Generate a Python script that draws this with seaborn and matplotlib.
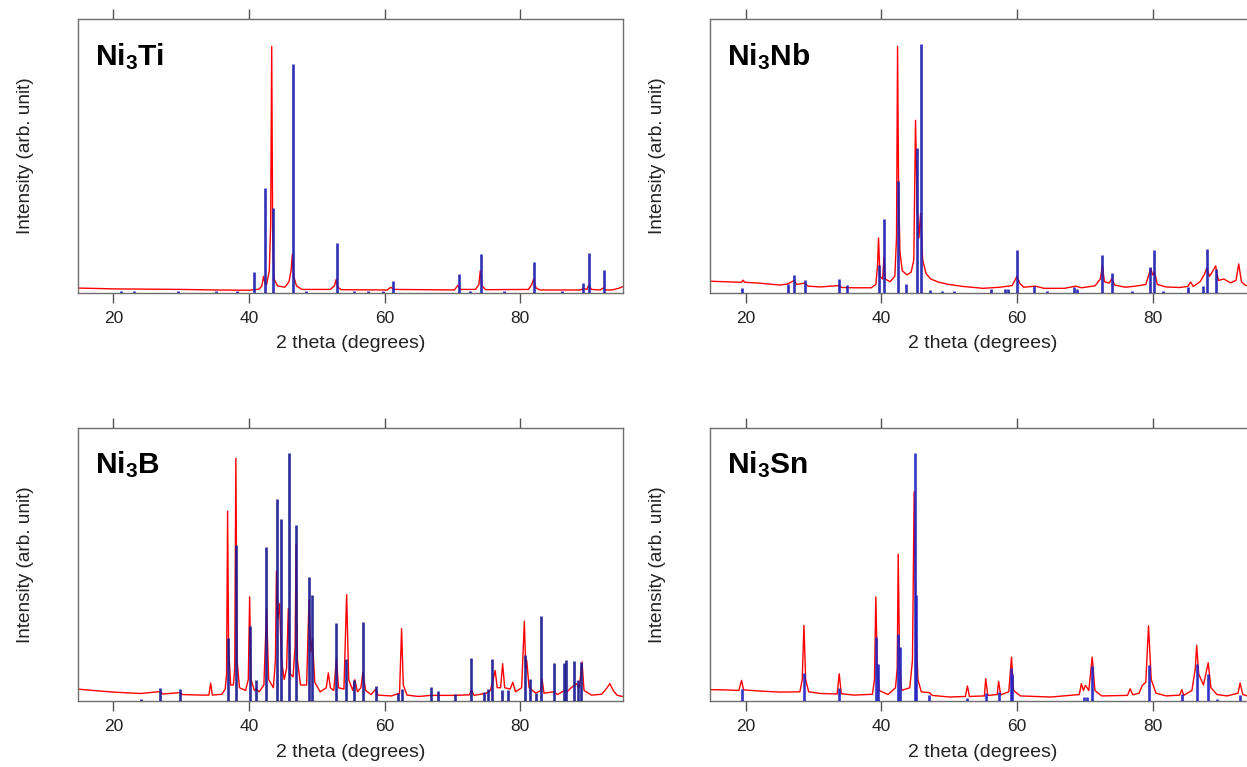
import matplotlib
matplotlib.use("Agg")
import matplotlib.pyplot as plt
import seaborn as sns
import pandas as pd

# ---------------- data (intensity in % of panel height) ----------------
x_ticks = [20, 40, 60, 80]
x_range = (14.75, 95.1)
panel_labels = [r"$\mathbf{Ni_3Ti}$", r"$\mathbf{Ni_3Nb}$", r"$\mathbf{Ni_3B}$", r"$\mathbf{Ni_3Sn}$"]

ti_curve = [(14.75, 1.7), (20, 1.4), (25, 1.3), (30, 1.2), (35, 1.0), (40, 0.9), (41.5, 1.3), (41.9, 2.5),
            (42.15, 6.0), (42.35, 3.5), (42.6, 3.0), (43.0, 8.0), (43.2, 25.0), (43.35, 90.0), (43.5, 20.0),
            (43.7, 5.0), (44.2, 2.5), (45.3, 2.0), (45.9, 4.0), (46.2, 8.0), (46.4, 14.0), (46.6, 6.0),
            (47.0, 2.5), (47.8, 1.2), (52.0, 1.2), (52.6, 2.5), (52.85, 4.8), (53.1, 2.0), (53.6, 1.1),
            (60.4, 1.0), (60.9, 2.0), (61.3, 1.2), (70.3, 1.0), (70.8, 2.7), (71.2, 1.2), (73.4, 1.2),
            (73.9, 3.0), (74.1, 8.0), (74.35, 2.5), (74.9, 1.1), (81.2, 1.2), (81.7, 3.0), (81.95, 4.9),
            (82.3, 1.8), (82.9, 1.0), (88.8, 1.0), (89.4, 1.5), (89.8, 1.2), (90.1, 2.7), (90.5, 1.2),
            (91.8, 1.0), (92.2, 1.7), (92.6, 1.0), (93.5, 1.0), (94.5, 1.6), (95.1, 2.2)]
ti_sticks_x = [21.1, 23.0, 29.5, 35.2, 38.3, 40.8, 42.33, 43.58, 46.54, 48.4, 52.94, 55.5, 57.5, 59.7,
               61.23, 70.95, 72.6, 74.27, 77.6, 82.03, 86.2, 89.31, 90.14, 92.27]
ti_sticks_h = [0.8, 0.8, 0.8, 0.8, 0.8, 7.6, 38.4, 31.1, 83.4, 0.8, 18.3, 0.8, 0.8, 0.8,
               4.1, 6.7, 0.8, 14.0, 0.8, 11.3, 0.8, 3.4, 14.5, 8.2]

nb_curve = [(14.75, 4.2), (17, 4.0), (19.4, 3.8), (19.6, 4.6), (19.9, 3.8), (22, 3.5), (25, 2.8), (26.2, 3.2),
            (27.2, 4.5), (27.5, 3.0), (28.7, 3.5), (29.2, 2.4), (31, 2.1), (33.7, 2.6), (34.2, 1.9), (36, 1.8),
            (38.5, 1.8), (39.2, 3.0), (39.45, 10.0), (39.6, 20.0), (39.8, 6.0), (40.2, 5.0), (40.4, 13.0),
            (40.6, 5.0), (41.3, 4.0), (42.0, 6.0), (42.25, 20.0), (42.4, 90.0), (42.55, 40.0), (42.75, 15.0),
            (43.1, 8.0), (43.8, 6.5), (44.4, 7.5), (44.8, 12.0), (45.05, 63.0), (45.3, 30.0), (45.55, 20.0),
            (45.8, 29.0), (46.1, 12.0), (46.6, 7.0), (47.3, 5.0), (48.5, 3.8), (50, 3.0), (52, 2.3), (55, 1.6),
            (57.5, 2.0), (59.3, 2.6), (59.8, 5.0), (60.0, 6.0), (60.4, 3.5), (61, 2.0), (62.7, 2.4), (64, 1.6),
            (67, 1.6), (68.7, 2.4), (69.5, 1.8), (71.5, 2.5), (72.3, 5.0), (72.6, 10.0), (72.9, 4.0),
            (73.6, 3.5), (74.0, 5.1), (74.4, 2.8), (76, 2.0), (77.5, 2.4), (79.0, 3.0), (79.5, 7.0),
            (79.75, 8.8), (80.0, 6.5), (80.3, 7.6), (80.7, 3.0), (82, 2.1), (84, 1.9), (85.2, 2.3), (85.6, 3.9),
            (86, 2.3), (87, 4.0), (87.6, 6.5), (88.0, 9.0), (88.4, 6.0), (88.9, 8.0), (89.3, 9.8), (89.7, 4.5),
            (90.5, 5.0), (91.5, 3.6), (92.3, 4.5), (92.7, 10.5), (93.1, 4.0), (93.7, 2.7), (95.1, 2.5)]
nb_sticks_x = [19.5, 26.2, 27.2, 28.7, 33.7, 35.0, 39.6, 40.4, 42.5, 43.7, 45.2, 45.9, 47.2, 48.9, 50.7,
               56.2, 58.2, 58.7, 60.07, 62.5, 64.5, 68.4, 68.9, 72.55, 73.95, 76.9, 79.6, 80.28, 81.5,
               85.2, 87.4, 88.0, 89.4]
nb_sticks_h = [1.8, 3.3, 6.6, 4.5, 5.1, 2.7, 10.0, 26.8, 40.7, 3.3, 52.9, 90.7, 1.1, 0.8, 0.8,
               1.2, 1.2, 1.2, 15.5, 2.4, 0.8, 2.0, 1.5, 13.9, 7.3, 0.8, 9.4, 15.5, 0.8,
               2.0, 2.3, 16.1, 8.8]

b_curve = [(14.75, 4.5), (17, 4.0), (20, 3.4), (23, 3.0), (24.1, 2.9), (26.9, 3.6), (27.3, 2.7), (29.8, 3.2),
           (30.2, 2.5), (33, 2.3), (34.1, 2.3), (34.35, 6.7), (34.6, 2.3), (36.0, 2.6), (36.5, 4.5), (36.7, 10.0),
           (36.85, 69.5), (37.0, 20.0), (37.3, 6.0), (37.7, 6.0), (37.9, 12.0), (38.07, 88.8), (38.25, 15.0),
           (38.6, 5.0), (39.5, 4.0), (39.9, 8.0), (40.1, 38.2), (40.3, 8.0), (40.8, 4.0), (41.1, 4.5),
           (41.5, 3.5), (42.2, 6.0), (42.6, 33.9), (42.9, 8.0), (43.6, 5.0), (43.9, 15.0), (44.05, 47.7),
           (44.25, 30.0), (44.5, 35.7), (44.8, 15.0), (45.2, 8.0), (45.55, 12.0), (45.8, 33.9), (46.1, 10.0),
           (46.5, 9.0), (46.8, 20.0), (46.95, 57.3), (47.15, 15.0), (47.6, 6.0), (48.5, 6.0), (48.85, 37.0),
           (49.1, 18.0), (49.35, 22.9), (49.7, 7.0), (50.5, 3.5), (51.4, 5.0), (51.7, 10.4), (52.0, 5.0),
           (52.5, 4.0), (52.9, 15.6), (53.2, 5.0), (54.0, 4.5), (54.4, 39.0), (54.7, 8.0), (55.3, 4.0),
           (55.6, 7.9), (56.0, 3.5), (56.5, 5.0), (56.8, 10.7), (57.2, 4.0), (58.0, 2.5), (58.7, 4.5),
           (59.0, 2.3), (61, 2.0), (62.2, 3.0), (62.5, 26.6), (62.75, 6.0), (63.3, 2.3), (65, 1.8),
           (66.8, 2.2), (67.9, 2.2), (70.4, 2.2), (72.5, 2.4), (72.8, 4.0), (73.2, 2.2), (75.0, 3.0),
           (75.6, 4.0), (76.0, 8.0), (76.3, 11.3), (76.6, 5.0), (77.1, 5.0), (77.4, 13.8), (77.7, 5.0),
           (78.5, 4.5), (78.9, 7.0), (79.3, 3.5), (80.2, 5.0), (80.6, 29.3), (80.8, 12.0), (80.95, 15.0),
           (81.3, 5.0), (82.3, 3.0), (83.0, 4.0), (83.2, 8.3), (83.5, 3.0), (84.9, 3.5), (85.5, 2.5),
           (86.5, 4.0), (86.9, 3.5), (87.5, 5.0), (88.3, 6.5), (88.7, 5.0), (89.1, 14.4), (89.4, 4.0),
           (90.5, 2.3), (92.0, 2.6), (92.8, 5.0), (93.2, 6.5), (93.7, 4.0), (94.3, 2.2), (95.1, 1.8)]
b_sticks_x = [24.1, 26.9, 29.8, 36.9, 38.07, 40.08, 41.1, 42.45, 44.17, 44.7, 45.9, 46.95, 48.85, 49.27,
              52.88, 54.36, 55.55, 56.8, 58.7, 61.95, 62.5, 66.8, 67.85, 70.4, 72.77, 74.7, 75.3, 75.9,
              77.35, 78.2, 80.7, 81.5, 82.3, 83.1, 84.9, 86.5, 86.8, 87.9, 88.5, 89.0]
b_sticks_h = [1.0, 5.0, 4.6, 23.3, 57.0, 27.6, 7.7, 56.5, 74.1, 66.8, 90.6, 64.4, 45.4, 39.0,
              28.8, 15.6, 7.9, 29.1, 5.6, 3.0, 4.6, 5.2, 3.8, 2.8, 16.0, 3.4, 4.6, 15.6,
              4.0, 4.0, 16.8, 8.3, 3.0, 31.1, 14.0, 14.1, 15.0, 14.6, 7.7, 14.4]

sn_curve = [(14.75, 4.3), (17, 4.2), (19.0, 4.0), (19.4, 7.7), (19.7, 4.2), (22, 3.8), (25, 3.4), (28.0, 3.5),
            (28.35, 8.0), (28.6, 27.8), (28.85, 8.0), (29.3, 3.5), (31, 2.9), (33.5, 2.7), (33.8, 10.1),
            (34.1, 2.8), (36, 2.3), (38.7, 2.6), (39.0, 8.0), (39.2, 38.2), (39.4, 14.0), (39.7, 4.0),
            (41, 2.5), (42.1, 5.0), (42.35, 12.0), (42.5, 53.8), (42.7, 14.0), (43.0, 4.0), (44.2, 5.0),
            (44.6, 15.0), (44.85, 76.6), (45.1, 30.0), (45.4, 8.0), (45.9, 3.5), (47.1, 3.2), (47.5, 2.2),
            (50, 1.6), (52.4, 1.8), (52.7, 5.6), (53.0, 1.8), (55.2, 2.0), (55.4, 8.3), (55.7, 2.2),
            (57.1, 2.5), (57.3, 7.3), (57.6, 2.4), (58.8, 3.5), (59.2, 16.2), (59.5, 4.0), (60.5, 2.0),
            (65, 1.6), (69.2, 2.5), (69.5, 6.5), (69.8, 4.0), (70.1, 5.9), (70.6, 4.0), (71.1, 16.2),
            (71.5, 4.0), (72.5, 2.0), (76.3, 2.2), (76.7, 4.6), (77.1, 2.4), (78.0, 3.0), (78.5, 5.9),
            (79.0, 7.0), (79.4, 27.6), (79.8, 8.0), (80.5, 3.0), (82, 2.0), (84.0, 2.3), (84.3, 4.3),
            (84.6, 2.2), (85.8, 4.0), (86.3, 12.0), (86.5, 20.5), (86.8, 10.0), (87.5, 6.0), (88.2, 14.1),
            (88.6, 5.0), (89.5, 2.5), (91, 2.0), (92.6, 3.0), (92.9, 6.7), (93.3, 2.5), (94.5, 1.6), (95.1, 1.5)]
sn_sticks_x = [19.4, 28.6, 33.8, 39.2, 39.5, 42.5, 42.7, 44.9, 45.1, 47.1, 52.7, 55.5, 57.3, 59.1, 59.3,
               69.9, 70.3, 71.1, 79.5, 84.4, 86.5, 88.2, 89.5, 92.9]
sn_sticks_h = [4.6, 10.4, 5.0, 23.5, 13.8, 24.5, 19.9, 90.9, 39.0, 2.2, 1.2, 3.0, 3.4, 12.2, 10.0,
               1.6, 1.6, 12.9, 13.2, 2.8, 13.5, 10.1, 1.0, 2.2]

# ---------------- style ----------------
sns.set_style("ticks")
plt.rcParams["font.family"] = ["Liberation Sans", "DejaVu Sans"]
plt.rcParams["mathtext.fontset"] = "custom"
plt.rcParams["mathtext.bf"] = "Liberation Sans:bold"
plt.rcParams["mathtext.rm"] = "Liberation Sans"

W, H = 1247, 767
fig = plt.figure(figsize=(W / 100, H / 100), dpi=100)

def px_box(left, top, width, height):
    return [left / W, 1 - (top + height) / H, width / W, height / H]

boxes = [px_box(77.7, 19, 545, 273.7), px_box(710, 19, 545, 273.7),
         px_box(77.7, 427.7, 545, 273.7), px_box(710, 427.7, 545, 273.7)]
curves = [ti_curve, nb_curve, b_curve, sn_curve]
sticks = [(ti_sticks_x, ti_sticks_h), (nb_sticks_x, nb_sticks_h),
          (b_sticks_x, b_sticks_h), (sn_sticks_x, sn_sticks_h)]
stick_colors = ["#1f1fb0", "#1f1fb0", "#1a1a92", "#2222c0"]

for box, curve, (sx, sh), lab, scol in zip(boxes, curves, sticks, panel_labels, stick_colors):
    ax = fig.add_axes(box)
    df = pd.DataFrame(curve, columns=["theta", "intensity"])
    sns.lineplot(data=df, x="theta", y="intensity", ax=ax, color="#ff0000", linewidth=1.0,
                 estimator=None, sort=False, zorder=2)
    ax.vlines(sx, 0, sh, colors=scol, linewidth=1.9, alpha=0.92, zorder=3)
    ax.set_xlim(*x_range)
    ax.set_ylim(0, 100)
    ax.set_xticks(x_ticks)
    ax.set_yticks([])
    ax.tick_params(axis="x", which="both", top=True, bottom=True, labeltop=False, direction="out",
                   length=7, width=1, color="#555555", labelsize=12.5, labelcolor="#222222", pad=6)
    for sp in ax.spines.values():
        sp.set_visible(True)
        sp.set_color("#6e6e6e")
        sp.set_linewidth(1.0)
    ax.set_xlabel("2 theta (degrees)", fontsize=14, color="#222222")
    ax.xaxis.set_label_coords(0.5, -0.155)
    ax.set_ylabel("Intensity (arb. unit)", fontsize=13.7, color="#222222")
    ax.yaxis.set_label_coords(-0.08, 0.5)
    ax.text(0.031, 0.832, lab, transform=ax.transAxes, fontsize=21.5, color="black",
            ha="left", va="baseline", zorder=5)

fig.savefig("out.png", dpi=100)
